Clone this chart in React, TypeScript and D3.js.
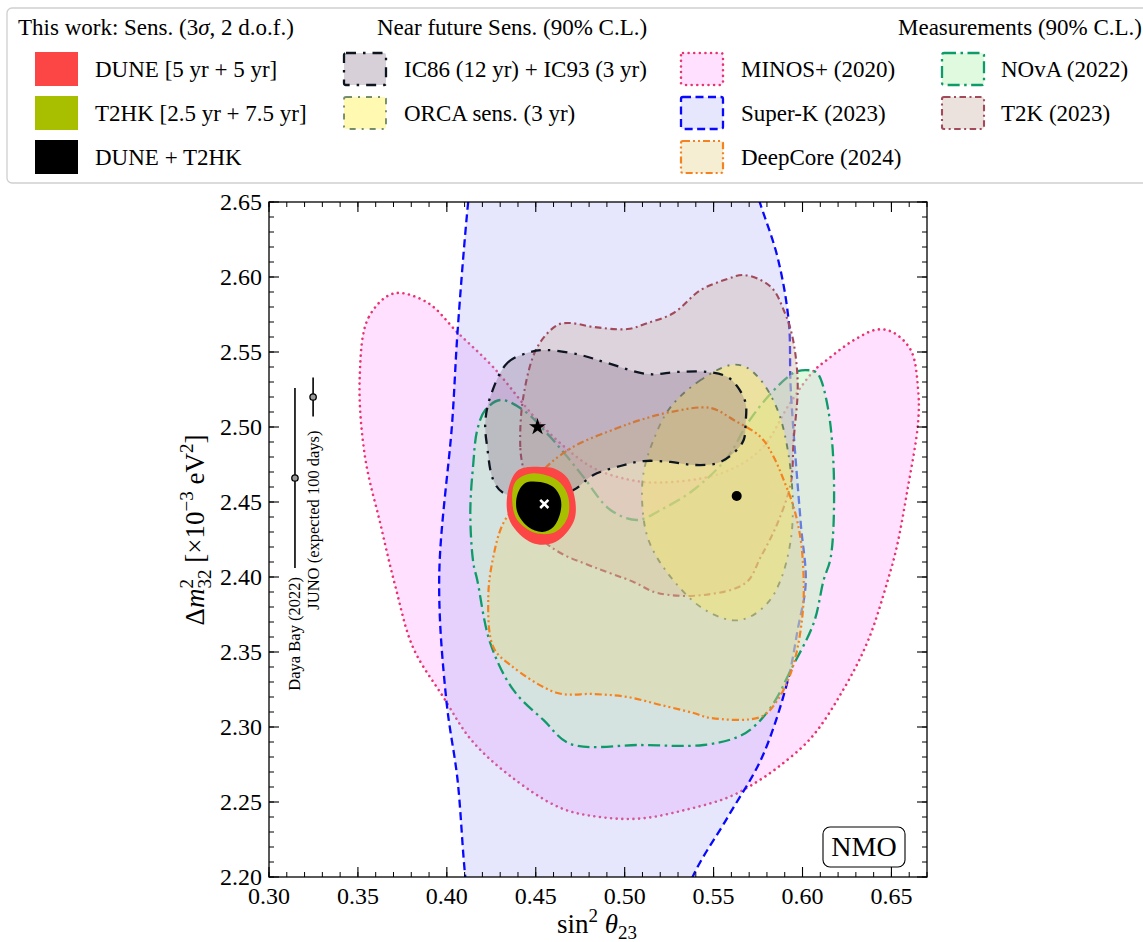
import * as d3 from 'd3';

type Pt = [number, number];

// ---- contour data (sin^2 theta23, dm2_32 in 1e-3 eV^2)
const minosPlus: Pt[] = [
  [0.370, 2.589], [0.356, 2.573], [0.351, 2.533], [0.354, 2.480], [0.3625, 2.436], [0.371, 2.394],
  [0.381, 2.353], [0.398, 2.320], [0.414, 2.291], [0.436, 2.267], [0.464, 2.246], [0.486, 2.240],
  [0.509, 2.239], [0.535, 2.245], [0.558, 2.253], [0.571, 2.261], [0.586, 2.273], [0.605, 2.293],
  [0.623, 2.325], [0.637, 2.358], [0.648, 2.398], [0.653, 2.420], [0.659, 2.458], [0.665, 2.503],
  [0.665, 2.525], [0.661, 2.551], [0.651, 2.563], [0.642, 2.565], [0.629, 2.558], [0.614, 2.545],
  [0.606, 2.537], [0.593, 2.516], [0.5765, 2.485], [0.554, 2.469], [0.520, 2.463], [0.502, 2.465],
  [0.482, 2.473], [0.464, 2.489], [0.449, 2.507], [0.426, 2.540], [0.406, 2.563], [0.389, 2.583],
];

const superK: Pt[] = [
  [0.416, 2.69], [0.412, 2.65], [0.406, 2.563], [0.403, 2.503], [0.3957, 2.40], [0.3997, 2.318],
  [0.406, 2.265], [0.4104, 2.20], [0.415, 2.16], [0.475, 2.13], [0.527, 2.16], [0.5382, 2.20],
  [0.558, 2.24], [0.5773, 2.28], [0.5917, 2.331], [0.5973, 2.365], [0.6018, 2.396],
  [0.599, 2.436], [0.5934, 2.525], [0.5922, 2.571], [0.586, 2.613], [0.5759, 2.65], [0.565, 2.69],
  [0.490, 2.72],
];

const nova: Pt[] = [
  [0.4301, 2.518], [0.4216, 2.5113], [0.4171, 2.498], [0.4149, 2.476], [0.4132, 2.4427], [0.4149, 2.4093],
  [0.4171, 2.398], [0.4244, 2.356], [0.4374, 2.3247], [0.4543, 2.3047], [0.4695, 2.2887], [0.5089, 2.288],
  [0.5444, 2.288], [0.5635, 2.2933], [0.5725, 2.30], [0.5838, 2.316], [0.5934, 2.338], [0.6063, 2.3693],
  [0.6119, 2.398], [0.6159, 2.4133], [0.6176, 2.4693], [0.6142, 2.5133], [0.6091, 2.5347], [0.6063, 2.5373],
  [0.5973, 2.5373], [0.5917, 2.5333], [0.5804, 2.52], [0.5692, 2.5027], [0.5579, 2.48], [0.5387, 2.458],
  [0.5202, 2.4447], [0.5072, 2.438], [0.492, 2.4447], [0.4768, 2.4667], [0.4678, 2.48], [0.4582, 2.4933],
  [0.443, 2.5113],
];

const t2k: Pt[] = [
  [0.443, 2.4713], [0.4413, 2.4867], [0.443, 2.52], [0.4509, 2.5533], [0.4622, 2.568], [0.4695, 2.5693],
  [0.4824, 2.5667], [0.5016, 2.5653], [0.5128, 2.5693], [0.5275, 2.576], [0.5427, 2.5913], [0.5579, 2.5987],
  [0.5663, 2.6013], [0.5765, 2.598], [0.5838, 2.5913], [0.5894, 2.578], [0.5934, 2.5647], [0.5962, 2.5467],
  [0.5973, 2.5247], [0.595, 2.4913], [0.5934, 2.4627], [0.586, 2.436], [0.5765, 2.4133], [0.568, 2.396],
  [0.5444, 2.388], [0.5185, 2.3893], [0.505, 2.3967], [0.4824, 2.4067], [0.4639, 2.416], [0.4543, 2.4247],
  [0.447, 2.4447],
];

const orca: Pt[] = [
  [0.5596, 2.5413], [0.5427, 2.5313], [0.5258, 2.5133], [0.5162, 2.4913], [0.5106, 2.4693], [0.51, 2.4467],
  [0.5134, 2.4247], [0.5241, 2.4027], [0.5427, 2.38], [0.5596, 2.3713], [0.5691, 2.3727], [0.5804, 2.3827],
  [0.5877, 2.398], [0.5934, 2.4247], [0.5945, 2.4513], [0.5917, 2.4847], [0.586, 2.5113], [0.5765, 2.5313],
  [0.568, 2.54],
];

const deepCore: Pt[] = [
  [0.4543, 2.4713], [0.4639, 2.4813], [0.4751, 2.4893], [0.4959, 2.4993], [0.5089, 2.5047], [0.5258, 2.51],
  [0.5483, 2.5127], [0.5613, 2.5047], [0.5765, 2.4933], [0.5838, 2.48], [0.5894, 2.4647], [0.595, 2.4467],
  [0.599, 2.4247], [0.6007, 2.396], [0.6001, 2.376], [0.5973, 2.3533], [0.5934, 2.336], [0.586, 2.318],
  [0.5765, 2.3067], [0.5483, 2.306], [0.5387, 2.3093], [0.5202, 2.3147], [0.5016, 2.32], [0.4824, 2.322],
  [0.4622, 2.3227], [0.4357, 2.3413], [0.4261, 2.3533], [0.4233, 2.3867], [0.4261, 2.4133], [0.4318, 2.436],
  [0.443, 2.4533],
];

const ic86: Pt[] = [
  [0.4244, 2.52], [0.434, 2.5427], [0.447, 2.55], [0.4565, 2.5513], [0.4751, 2.548], [0.4903, 2.5427],
  [0.5128, 2.5353], [0.5297, 2.5367], [0.5466, 2.5367], [0.5579, 2.5333], [0.5635, 2.5267], [0.568, 2.516],
  [0.568, 2.5027], [0.5669, 2.4913], [0.5613, 2.4827], [0.5523, 2.476], [0.5387, 2.4747], [0.5258, 2.4767],
  [0.5106, 2.4773], [0.4976, 2.474], [0.4824, 2.468], [0.4712, 2.458], [0.452, 2.452], [0.4318, 2.456],
  [0.4261, 2.4647], [0.4227, 2.4867], [0.4216, 2.5027],
];

const dune: Pt[] = [
  [0.4554, 2.4733], [0.4402, 2.4713], [0.434, 2.4547], [0.4357, 2.4367], [0.4481, 2.4227],
  [0.461, 2.4233], [0.4712, 2.4367], [0.4723, 2.45], [0.4678, 2.466], [0.461, 2.472],
];

const t2hk: Pt[] = [
  [0.4458, 2.4687], [0.4385, 2.4633], [0.4368, 2.45], [0.4396, 2.438], [0.4498, 2.4293],
  [0.461, 2.43], [0.4678, 2.4393], [0.4684, 2.4527], [0.4639, 2.4627], [0.4554, 2.468],
];

const duneT2hk: Pt[] = [
  [0.4441, 2.4627], [0.4396, 2.4547], [0.4396, 2.4433], [0.4458, 2.4333], [0.4537, 2.43],
  [0.4599, 2.4333], [0.4639, 2.4433], [0.4639, 2.4527], [0.4599, 2.46], [0.4526, 2.4633],
];

// best fits / markers
const trueValue: Pt = [0.4548, 2.4487];
const starPoint: Pt = [0.451, 2.50];
const dotPoint: Pt = [0.563, 2.454];

// reactor measurements: [x, central, error]
const dayaBay = [0.3146, 2.466, 0.060];
const juno = [0.3248, 2.520, 0.013];

const xMajorTicks = [0.30, 0.35, 0.40, 0.45, 0.50, 0.55, 0.60, 0.65];
const yMajorTicks = [2.20, 2.25, 2.30, 2.35, 2.40, 2.45, 2.50, 2.55, 2.60, 2.65];

// ---- styles
type Style = { fill: string; fillOpacity: number; stroke: string; width: number; dash: string; strokeOpacity?: number; cap?: string };
const styles: Record<string, Style> = {
  minos: { fill: '#ffb4ff', fillOpacity: 0.4, stroke: '#e8336f', width: 2.6, dash: '0.01 5.6', cap: 'round' },
  superk: { fill: '#acacf8', fillOpacity: 0.3, stroke: '#0808ff', width: 2.3, dash: '8 4.5' },
  nova: { fill: '#c1f5c1', fillOpacity: 0.5, stroke: '#0f9a6a', width: 2.3, dash: '12 4.5 2.5 4.5' },
  t2k: { fill: '#cdb6ac', fillOpacity: 0.4, stroke: '#a34a5a', width: 2.1, dash: '6.5 3.5 2 3.5' },
  orca: { fill: '#fff151', fillOpacity: 0.45, stroke: '#3b5e3b', width: 1.9, dash: '6 6 2 6', strokeOpacity: 0.7 },
  deepcore: { fill: '#e6d48e', fillOpacity: 0.4, stroke: '#f5821f', width: 2.2, dash: '7 3 2 3 2 3' },
  ic86: { fill: '#7d627d', fillOpacity: 0.3, stroke: '#0d1520', width: 2.3, dash: '10 7 2.5 7' },
};
const duneColor = '#fc4545';
const t2hkColor = '#a8bf00';

const W = 1143;
const H = 942;
const FONT = "'Liberation Serif', 'Times New Roman', serif";

export default function App() {
  const x = d3.scaleLinear().domain([0.30, 0.67]).range([269, 927]);
  const y = d3.scaleLinear().domain([2.20, 2.65]).range([877, 202]);
  const [x0, x1] = x.range();
  const [y0, y1] = y.range();

  const contour = d3
    .line<Pt>()
    .x((d) => x(d[0]))
    .y((d) => y(d[1]))
    .curve(d3.curveCatmullRomClosed.alpha(0.5));

  const layers: [Pt[], Style][] = [
    [minosPlus, styles.minos],
    [superK, styles.superk],
    [nova, styles.nova],
    [t2k, styles.t2k],
    [orca, styles.orca],
    [deepCore, styles.deepcore],
    [ic86, styles.ic86],
  ];

  const xMinor = d3.range(0.30, 0.6705, 0.01);
  const yMinor = d3.range(2.20, 2.6505, 0.01);

  // legend layout
  const rowTop = [52, 96, 140];
  const swH = 34;
  const legendCols = [
    { sx: 35, tx: 95, items: [['DUNE [5 yr + 5 yr]', 'dune'], ['T2HK [2.5 yr + 7.5 yr]', 't2hk'], ['DUNE + T2HK', 'combo']] },
    { sx: 343, tx: 404, items: [['IC86 (12 yr) + IC93 (3 yr)', 'ic86'], ['ORCA sens. (3 yr)', 'orca']] },
    { sx: 680, tx: 741, items: [['MINOS+ (2020)', 'minos'], ['Super-K (2023)', 'superk'], ['DeepCore (2024)', 'deepcore']] },
    { sx: 941, tx: 1001, items: [['NOvA (2022)', 'nova'], ['T2K (2023)', 't2k']] },
  ];
  const solid: Record<string, string> = { dune: duneColor, t2hk: t2hkColor, combo: '#000' };

  const star = d3.symbol().type(d3.symbolStar).size(90)();
  const cross = d3.symbol().type(d3.symbolX).size(45)();

  const errBar = (m: number[], key: string) => (
    <g key={key}>
      <line x1={x(m[0])} x2={x(m[0])} y1={y(m[1] + m[2])} y2={y(m[1] - m[2])} stroke="#000" strokeWidth={1.6} />
      <circle cx={x(m[0])} cy={y(m[1])} r={3.2} fill="#999" stroke="#000" strokeWidth={1.3} />
    </g>
  );

  return (
    <svg width={W} height={H} style={{ position: 'absolute', left: 0, top: 0, fontFamily: FONT }}>
      <rect width={W} height={H} fill="#fff" />
      <defs>
        <clipPath id="plot">
          <rect x={x0} y={y1} width={x1 - x0} height={y0 - y1} />
        </clipPath>
      </defs>

      {/* contours */}
      <g clipPath="url(#plot)">
        {layers.map(([data, s], i) => (
          <path
            key={i}
            d={contour(data) ?? ''}
            fill={s.fill}
            fillOpacity={s.fillOpacity}
            stroke={s.stroke}
            strokeOpacity={s.strokeOpacity ?? 1}
            strokeWidth={s.width}
            strokeDasharray={s.dash}
            strokeLinecap={(s.cap as any) ?? 'butt'}
          />
        ))}
        <path d={contour(dune) ?? ''} fill={duneColor} />
        <path d={contour(t2hk) ?? ''} fill={t2hkColor} />
        <path d={contour(duneT2hk) ?? ''} fill="#000" />
        <path d={cross ?? ''} transform={`translate(${x(trueValue[0])},${y(trueValue[1])})`} stroke="#fff" strokeWidth={2.6} fill="none" />
        <path d={star ?? ''} transform={`translate(${x(starPoint[0])},${y(starPoint[1])})`} fill="#000" />
        <circle cx={x(dotPoint[0])} cy={y(dotPoint[1])} r={5} fill="#000" />
      </g>

      {/* reactor measurements */}
      {errBar(dayaBay, 'db')}
      {errBar(juno, 'juno')}
      <text transform={`translate(${x(dayaBay[0]) + 5},${y(dayaBay[1] - dayaBay[2]) + 9}) rotate(-90)`} textAnchor="end" fontSize={16.5}>
        Daya Bay (2022)
      </text>
      <text transform={`translate(${x(juno[0]) + 6},${y(juno[1] - juno[2]) + 14}) rotate(-90)`} textAnchor="end" fontSize={16.5}>
        JUNO (expected 100 days)
      </text>

      {/* frame + ticks */}
      <rect x={x0} y={y1} width={x1 - x0} height={y0 - y1} fill="none" stroke="#000" strokeWidth={1.3} />
      {xMinor.map((v, i) => (
        <g key={`xm${i}`} stroke="#000" strokeWidth={1}>
          <line x1={x(v)} x2={x(v)} y1={y0} y2={y0 - 5} />
          <line x1={x(v)} x2={x(v)} y1={y1} y2={y1 + 5} />
        </g>
      ))}
      {yMinor.map((v, i) => (
        <g key={`ym${i}`} stroke="#000" strokeWidth={1}>
          <line x1={x0} x2={x0 + 5} y1={y(v)} y2={y(v)} />
          <line x1={x1} x2={x1 - 5} y1={y(v)} y2={y(v)} />
        </g>
      ))}
      {xMajorTicks.map((v) => (
        <g key={`x${v}`}>
          <line x1={x(v)} x2={x(v)} y1={y0} y2={y0 - 10} stroke="#000" strokeWidth={1.1} />
          <line x1={x(v)} x2={x(v)} y1={y1} y2={y1 + 10} stroke="#000" strokeWidth={1.1} />
          <text x={x(v)} y={y0 + 27} textAnchor="middle" fontSize={24}>
            {v.toFixed(2)}
          </text>
        </g>
      ))}
      {yMajorTicks.map((v) => (
        <g key={`y${v}`}>
          <line x1={x0} x2={x0 + 10} y1={y(v)} y2={y(v)} stroke="#000" strokeWidth={1.1} />
          <line x1={x1} x2={x1 - 10} y1={y(v)} y2={y(v)} stroke="#000" strokeWidth={1.1} />
          <text x={x0 - 7} y={y(v) + 7.5} textAnchor="end" fontSize={24}>
            {v.toFixed(2)}
          </text>
        </g>
      ))}

      {/* axis labels */}
      <text x={597} y={933} textAnchor="middle" fontSize={27}>
        sin
        <tspan fontSize={19} dy={-11}>2</tspan>
        <tspan dy={11}> </tspan>
        <tspan fontStyle="italic">θ</tspan>
        <tspan fontSize={19} dy={6}>23</tspan>
      </text>
      <text transform="translate(204,530) rotate(-90)" textAnchor="middle" fontSize={27}>
        Δ<tspan fontStyle="italic">m</tspan>
        <tspan fontSize={19} dy={-11}>2</tspan>
        <tspan fontSize={19} dx={-9.5} dy={18}>32</tspan>
        <tspan dy={-7}> [×10</tspan>
        <tspan fontSize={19} dy={-11}>−3</tspan>
        <tspan dy={11}> eV</tspan>
        <tspan fontSize={19} dy={-11}>2</tspan>
        <tspan dy={11}>]</tspan>
      </text>

      {/* NMO tag */}
      <rect x={x1 - 104} y={y0 - 50} width={82} height={40} rx={7} fill="#fff" stroke="#000" strokeWidth={1.1} />
      <text x={x1 - 63} y={y0 - 21} textAnchor="middle" fontSize={28}>
        NMO
      </text>

      {/* legend */}
      <rect x={7} y={8} width={1160} height={175} rx={5} fill="#fff" stroke="#cfcfcf" strokeWidth={1.3} />
      <text x={18} y={35} fontSize={23}>
        This work: Sens. (3<tspan fontStyle="italic">σ</tspan>, 2 d.o.f.)
      </text>
      <text x={377} y={35} fontSize={23}>
        Near future Sens. (90% C.L.)
      </text>
      <text x={1142} y={35} fontSize={23} textAnchor="end">
        Measurements (90% C.L.)
      </text>
      {legendCols.map((col, ci) =>
        col.items.map(([label, key], ri) => {
          const s = styles[key];
          return (
            <g key={`${ci}-${ri}`}>
              {s ? (
                <rect
                  x={col.sx + 1}
                  y={rowTop[ri] + 1}
                  width={42}
                  height={swH - 2}
                  fill={s.fill}
                  fillOpacity={s.fillOpacity}
                  stroke={s.stroke}
                  strokeOpacity={s.strokeOpacity ?? 1}
                  strokeWidth={s.width}
                  strokeDasharray={s.dash}
                  strokeLinecap={(s.cap as any) ?? 'butt'}
                  rx={2}
                />
              ) : (
                <rect x={col.sx} y={rowTop[ri]} width={43} height={swH} fill={solid[key]} />
              )}
              <text x={col.tx} y={rowTop[ri] + 25} fontSize={23}>
                {label}
              </text>
            </g>
          );
        }),
      )}
    </svg>
  );
}
